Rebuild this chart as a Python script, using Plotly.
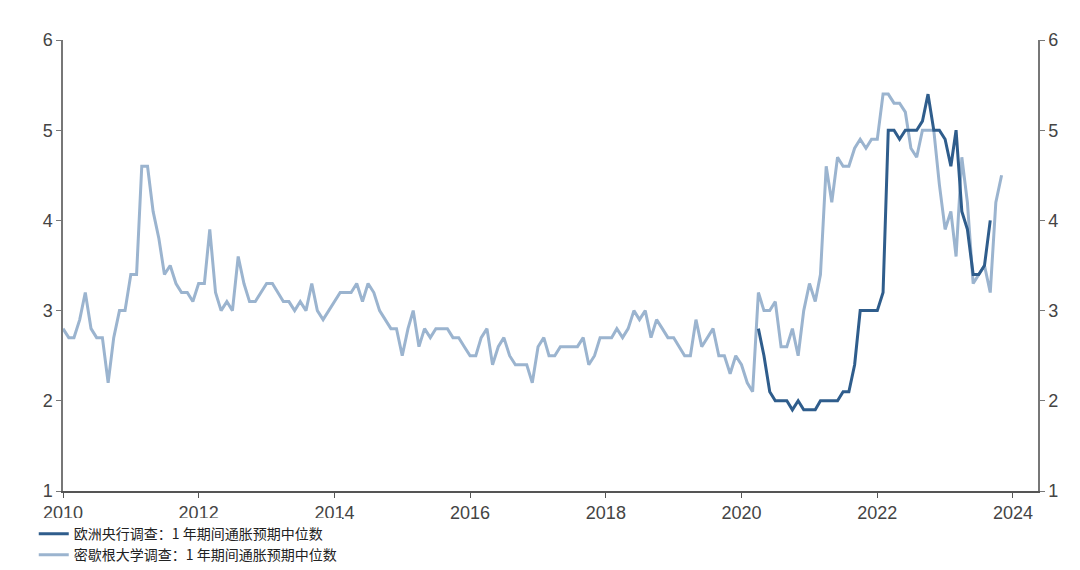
import plotly.graph_objects as go
import pandas as pd

umich = [2.8,2.7,2.7,2.9,3.2,2.8,2.7,2.7,2.2,2.7,3.0,3.0,
3.4,3.4,4.6,4.6,4.1,3.8,3.4,3.5,3.3,3.2,3.2,3.1,
3.3,3.3,3.9,3.2,3.0,3.1,3.0,3.6,3.3,3.1,3.1,3.2,
3.3,3.3,3.2,3.1,3.1,3.0,3.1,3.0,3.3,3.0,2.9,3.0,
3.1,3.2,3.2,3.2,3.3,3.1,3.3,3.2,3.0,2.9,2.8,2.8,
2.5,2.8,3.0,2.6,2.8,2.7,2.8,2.8,2.8,2.7,2.7,2.6,
2.5,2.5,2.7,2.8,2.4,2.6,2.7,2.5,2.4,2.4,2.4,2.2,
2.6,2.7,2.5,2.5,2.6,2.6,2.6,2.6,2.7,2.4,2.5,2.7,
2.7,2.7,2.8,2.7,2.8,3.0,2.9,3.0,2.7,2.9,2.8,2.7,
2.7,2.6,2.5,2.5,2.9,2.6,2.7,2.8,2.5,2.5,2.3,2.5,
2.4,2.2,2.1,3.2,3.0,3.0,3.1,2.6,2.6,2.8,2.5,3.0,
3.3,3.1,3.4,4.6,4.2,4.7,4.6,4.6,4.8,4.9,4.8,4.9,
4.9,5.4,5.4,5.3,5.3,5.2,4.8,4.7,5.0,5.0,5.0,4.4,
3.9,4.1,3.6,4.7,4.2,3.3,3.4,3.5,3.2,4.2,4.5]
umich_dates = pd.date_range("2010-01-01", periods=len(umich), freq="MS")

ecb = [2.8,2.5,2.1,2.0,2.0,2.0,1.9,2.0,1.9,1.9,
1.9,2.0,2.0,2.0,2.0,2.1,2.1,2.4,3.0,3.0,
3.0,3.0,3.2,5.0,5.0,4.9,5.0,5.0,5.0,5.1,
5.4,5.0,5.0,4.9,4.6,5.0,4.1,3.9,3.4,3.4,
3.5,4.0]
ecb_dates = pd.date_range("2020-04-01", periods=len(ecb), freq="MS")

name_ecb = "欧洲央行调查：1 年期间通胀预期中位数"
name_um = "密歇根大学调查：1 年期间通胀预期中位数"

fig = go.Figure()
fig.add_trace(go.Scatter(x=umich_dates, y=umich, mode="lines", name=name_um,
                         line=dict(color="#9BB4CF", width=3), legendrank=2))
fig.add_trace(go.Scatter(x=ecb_dates, y=ecb, mode="lines", name=name_ecb,
                         line=dict(color="#2F5D8C", width=3), legendrank=1))
fig.add_trace(go.Scatter(x=[umich_dates[0]], y=[None], yaxis="y2", showlegend=False))

tickfont = dict(family="Liberation Sans, Arial", size=18, color="#444")
fig.update_layout(
    width=1080, height=570, plot_bgcolor="white", paper_bgcolor="white",
    margin=dict(l=55, r=50, t=32, b=87, autoexpand=False),
    font=dict(family="Noto Sans CJK SC", color="#222"),
    xaxis=dict(range=["2010-01-01", "2024-05-15"], showgrid=False,
               tickvals=[f"{y}-01-01" for y in range(2010, 2025, 2)],
               ticktext=[str(y) for y in range(2010, 2025, 2)],
               showline=True, linecolor="#555", linewidth=1.5,
               ticks="outside", ticklen=5, tickcolor="#555", tickfont=tickfont),
    yaxis=dict(range=[1, 6], dtick=1, showgrid=False, showline=True, linecolor="#777",
               linewidth=1.5, ticks="outside", ticklen=5, tickcolor="#777", tickfont=tickfont,
               zeroline=False),
    yaxis2=dict(range=[1, 6], dtick=1, overlaying="y", side="right", showgrid=False,
                showline=True, linecolor="#777", linewidth=1.5, ticks="outside", ticklen=5,
                tickcolor="#777", tickfont=tickfont, zeroline=False),
    legend=dict(x=-0.03, y=-0.06, xanchor="left", yanchor="top", orientation="v",
                font=dict(size=14, family="Noto Sans CJK SC"), tracegroupgap=2),
)
fig.write_html("out.html")
